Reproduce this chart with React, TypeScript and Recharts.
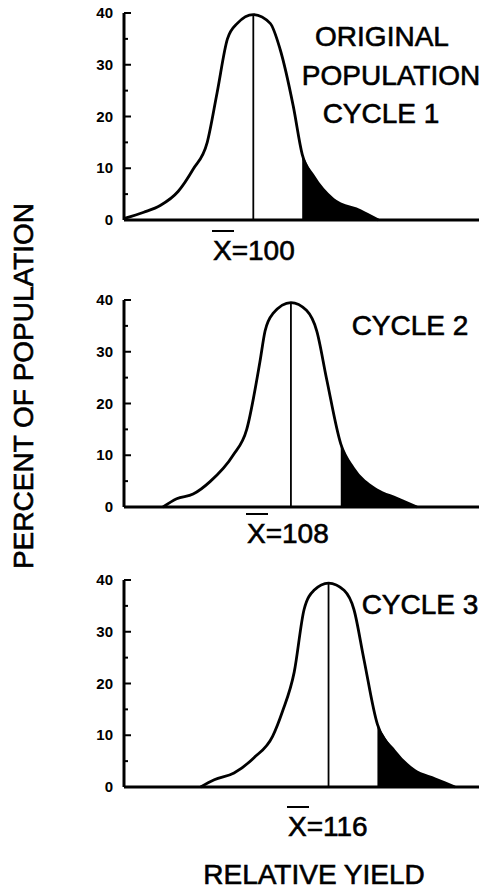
import { ComposedChart, Line, Area, XAxis, YAxis, ReferenceLine } from 'recharts';

// Relative yield (x) and percent of population (y)
const cycle1Yield = [72.6, 76.7, 80.2, 84, 87.2, 90.2, 92.3, 94.5, 96.6, 100, 103.6, 105.7, 108.5, 110.4, 112.8, 117, 122.8, 126.6];
const cycle1Pct = [0.3, 1.5, 2.8, 5.5, 9.8, 15, 24.6, 35, 38, 39.7, 38, 33, 22, 12.7, 8.5, 4, 1.8, 0];

const cycle2Yield = [80.8, 83.7, 87.2, 90.8, 95.7, 98.6, 101.4, 102.5, 104.2, 108, 111.3, 113.5, 115.6, 118.6, 121.3, 126.3, 130.5, 134.8];
const cycle2Pct = [0, 1.6, 2.5, 4.9, 10, 15, 28, 34, 37.4, 39.5, 38, 34, 24.7, 12.2, 7.5, 3.3, 1.7, 0];

const cycle3Yield = [88.8, 91.7, 95.9, 100.2, 104.1, 106.2, 108.7, 110.8, 112.9, 116, 119.3, 121.4, 123.5, 126.4, 130, 134.3, 138.6, 142.9];
const cycle3Pct = [0, 1.4, 2.7, 5.7, 9.8, 14.6, 22.2, 34.3, 38, 39.4, 38, 34.3, 24.8, 12.1, 7, 3.2, 1.6, 0];

const means = [100, 108, 116];
const peaks = [39.7, 39.5, 39.4];
// start of the selected (shaded) tail
const cutoffs = [110.4, 118.6, 126.4];

const pctTicks = [0, 5, 10, 15, 20, 25, 30, 35, 40];
const yieldDomain = [72.5, 148];

const FONT = '"Liberation Sans", Arial, sans-serif';

function buildRows(xs: number[], ys: number[], cut: number) {
  return xs.map((x, i) => ({ x, pct: ys[i], tail: x >= cut ? ys[i] : null }));
}

const panels = [
  { rows: buildRows(cycle1Yield, cycle1Pct, cutoffs[0]), mean: means[0], peak: peaks[0], top: 0 },
  { rows: buildRows(cycle2Yield, cycle2Pct, cutoffs[1]), mean: means[1], peak: peaks[1], top: 287 },
  { rows: buildRows(cycle3Yield, cycle3Pct, cutoffs[2]), mean: means[2], peak: peaks[2], top: 567 },
];

const MARGIN = 11;

function PctTick(props: any) {
  const { x, y, payload } = props;
  const v = payload.value;
  const major = v % 10 === 0;
  return (
    <g>
      {major && (
        <text x={x} y={y} dy={5} textAnchor="end" fontSize={15} fontWeight="bold" fontFamily={FONT} fill="#000">
          {v}
        </text>
      )}
      <line x1={x + MARGIN} x2={x + MARGIN + (major ? 7 : 4)} y1={y} y2={y} stroke="#000" strokeWidth={2} />
    </g>
  );
}

function Panel({ rows, mean, peak, top }: any) {
  return (
    <div style={{ position: 'absolute', left: 0, top }}>
      <ComposedChart width={479} height={240} data={rows} margin={{ top: 13, right: 0, bottom: 19, left: 84 }}>
        <XAxis
          type="number"
          dataKey="x"
          domain={yieldDomain}
          allowDataOverflow
          tick={false}
          tickLine={false}
          height={1}
          axisLine
          stroke="#000"
          strokeWidth={3}
        />
        <YAxis
          type="number"
          domain={[0, 40]}
          ticks={pctTicks}
          interval={0}
          width={40}
          tickSize={0}
          tickMargin={MARGIN}
          tickLine={false}
          tick={<PctTick />}
          axisLine
          stroke="#000"
          strokeWidth={3}
        />
        <Area
          type="monotone"
          dataKey="tail"
          stroke="none"
          fill="#000"
          fillOpacity={1}
          baseValue={0}
          isAnimationActive={false}
        />
        <Line type="monotone" dataKey="pct" stroke="#000" strokeWidth={2.8} dot={false} isAnimationActive={false} />
        <ReferenceLine
          segment={[{ x: mean, y: 0 }, { x: mean, y: peak }]}
          stroke="#000"
          strokeWidth={1.8}
          ifOverflow="visible"
        />
      </ComposedChart>
    </div>
  );
}

function MeanLabel({ x, y, value }: { x: number; y: number; value: number }) {
  return (
    <g>
      <line x1={x - 1} x2={x + 21} y1={y - 29} y2={y - 29} stroke="#000" strokeWidth={2} />
      <text x={x} y={y} fontSize={28} fontFamily={FONT} fill="#000" stroke="#000" strokeWidth={0.6}>
        X={value}
      </text>
    </g>
  );
}

export default function App() {
  return (
    <div style={{ position: 'absolute', left: 0, top: 0, width: 479, height: 890, background: '#fff', overflow: 'hidden' }}>
      {panels.map((p, i) => (
        <Panel key={i} {...p} />
      ))}
      <svg width={479} height={890} style={{ position: 'absolute', left: 0, top: 0, pointerEvents: 'none' }}>
        <g fontFamily={FONT} fontSize={28} fill="#000" stroke="#000" strokeWidth={0.6}>
          <text x={382} y={46} textAnchor="middle">ORIGINAL</text>
          <text x={391} y={85} textAnchor="middle">POPULATION</text>
          <text x={381} y={123} textAnchor="middle">CYCLE 1</text>
          <text x={410} y={335} textAnchor="middle">CYCLE 2</text>
          <text x={420} y={614} textAnchor="middle">CYCLE 3</text>
          <text x={314} y={884} textAnchor="middle">RELATIVE YIELD</text>
          <text x={33} y={386} textAnchor="middle" transform="rotate(-90, 33, 386)">
            PERCENT OF POPULATION
          </text>
        </g>
        <MeanLabel x={213} y={260} value={means[0]} />
        <MeanLabel x={247} y={543} value={means[1]} />
        <MeanLabel x={288} y={836} value={means[2]} />
      </svg>
    </div>
  );
}
